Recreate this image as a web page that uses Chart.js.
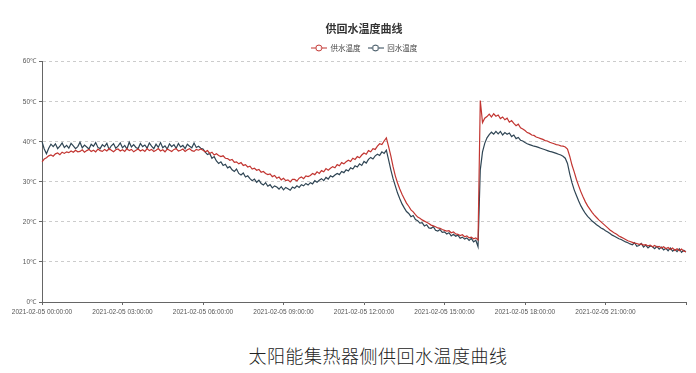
<!DOCTYPE html>
<html>
<head>
<meta charset="utf-8">
<script src="https://cdn.jsdelivr.net/npm/chart.js@4.4.1/dist/chart.umd.min.js"></script>
<style>
  html, body { margin: 0; padding: 0; background: #fff; }
  #wrap { position: relative; width: 696px; height: 373px; }
  #chartBox { position: absolute; left: 0; top: 0; width: 696px; height: 336px; }
  #caption {
    position: absolute; left: 0; top: 342px; width: 756px; text-align: center;
    font-family: "Noto Sans CJK SC", sans-serif; font-size: 18px; color: #222;
    letter-spacing: 0.5px; font-weight: 300;
  }
</style>
</head>
<body>
<div id="wrap">
  <div id="chartBox"><canvas id="tempChart"></canvas></div>
  <div id="caption">太阳能集热器侧供回水温度曲线</div>
</div>
<script>
// 5分おきのサンプル (00:00 ～ 24:00)
const timeLabels = [];
for (let i = 0; i <= 288; i++) {
    const h = Math.floor(i / 12) % 24;
    const m = (i % 12) * 5;
    const day = i === 288 ? '06' : '05';
    timeLabels.push('2021-02-' + day + ' ' + String(h).padStart(2, '0') + ':' + String(m).padStart(2, '0') + ':00');
}

const yTicks = [0, 10, 20, 30, 40, 50, 60];

// 供水温度
const supplyTemp = [
    35.0, 35.7, 36.0, 36.5, 36.7, 36.4, 37.0, 37.2, 36.8, 37.4, 37.1, 37.5,
    37.3, 37.7, 37.4, 37.9, 37.5, 37.6, 38.0, 37.4, 37.8, 38.1, 37.6, 37.9,
    37.5, 38.2, 37.8, 37.6, 38.1, 37.7, 38.3, 37.9, 37.5, 38.0, 38.2, 37.7,
    38.0, 37.6, 38.3, 37.8, 38.1, 37.5, 37.9, 38.2, 37.7, 38.0, 37.6, 38.3,
    37.8, 38.1, 37.6, 37.9, 38.3, 37.7, 38.0, 37.5, 38.2, 37.9, 37.6, 38.1,
    38.3, 37.7, 37.9, 38.2, 37.6, 38.0, 38.3, 37.8, 37.6, 38.1, 37.9, 38.2,
    37.9, 37.5, 37.8, 37.1, 37.4, 36.7, 37.0, 36.6, 36.3, 36.5, 35.9, 35.8,
    35.4, 35.6, 34.9, 35.0, 34.5, 34.8, 34.1, 34.3, 33.7, 33.9, 33.2, 33.4,
    32.9, 33.1, 32.4, 32.6, 32.1, 31.8, 32.0, 31.3, 31.6, 30.9, 31.2, 30.5,
    30.9, 30.3, 30.5, 30.0, 30.6, 30.6, 30.2, 30.9, 31.2, 30.8, 31.5, 31.3,
    31.6, 32.1, 31.8, 32.5, 32.1, 32.8, 32.5, 33.3, 32.9, 33.4, 33.8, 33.5,
    34.3, 34.0, 34.8, 34.5, 35.0, 35.4, 35.1, 35.9, 35.6, 36.3, 36.0, 36.7,
    37.2, 36.9, 37.8, 37.5, 38.3, 38.1, 38.9, 39.5, 39.3, 40.2, 41.0, 38.8,
    36.5, 33.8, 31.5, 29.7, 28.2, 26.9, 25.8, 24.7, 23.9, 23.0, 22.5, 21.8,
    21.2, 20.9, 20.5, 20.2, 19.9, 19.6, 19.2, 19.0, 18.8, 18.5, 18.4, 18.1,
    17.9, 17.7, 17.8, 17.3, 17.5, 17.0, 16.9, 16.6, 16.8, 16.3, 16.5, 16.0,
    16.2, 15.8, 16.0, 15.5, 50.3, 44.8, 45.9, 46.3, 46.9, 46.2, 47.0, 46.4,
    46.7, 45.8, 46.2, 45.5, 45.9, 44.9, 45.3, 44.6, 44.0, 44.4, 43.5, 43.2,
    42.8, 42.3, 42.1, 41.7, 41.6, 41.2, 41.0, 40.8, 40.6, 40.3, 40.2, 39.9,
    39.7, 39.5, 39.3, 39.2, 39.0, 38.9, 38.7, 38.2, 36.4, 34.2, 32.5, 30.6,
    29.0, 27.5, 26.2, 25.0, 24.0, 23.2, 22.4, 21.7, 21.1, 20.5, 20.0, 19.5,
    19.0, 18.5, 18.0, 17.6, 17.2, 16.9, 16.5, 16.2, 15.9, 15.6, 15.3, 15.1,
    14.9, 14.7, 14.6, 14.4, 14.5, 14.2, 14.3, 14.0, 14.2, 13.8, 14.1, 13.7,
    13.9, 13.5, 13.8, 13.3, 13.6, 13.1, 13.5, 12.9, 13.3, 12.8, 13.2, 12.7,
    12.6
];

// 回水温度
const returnTemp = [
    40.0, 38.2, 37.0, 38.4, 39.4, 38.8, 39.5, 38.3, 38.9, 39.7, 38.6, 39.1,
    38.4, 39.6, 39.0, 38.3, 38.8, 39.9, 38.5, 39.2, 38.7, 38.2, 39.4, 38.9,
    39.8, 38.6, 38.3, 39.3, 38.8, 39.6, 38.1, 39.0, 39.5, 38.4, 38.9, 39.7,
    38.5, 39.1, 38.2, 39.9, 38.7, 39.3, 38.6, 38.3, 39.6, 38.8, 39.2, 38.4,
    39.7, 38.9, 38.3, 39.4, 38.6, 39.8, 38.5, 39.0, 38.2, 39.5, 38.8, 39.3,
    38.4, 39.6, 38.7, 39.1, 38.3, 39.4, 38.9, 38.5, 39.7, 38.6, 38.9, 38.4,
    38.2, 37.4, 36.8, 37.1, 35.9, 36.3, 35.2, 34.6, 35.0, 34.1, 34.4, 33.5,
    33.8, 33.0, 32.6, 33.2, 32.1, 31.7, 32.2, 31.2, 31.5, 30.8, 30.3, 30.7,
    29.9, 30.4, 29.6, 29.2, 29.8, 28.9, 29.3, 28.5, 29.0, 28.7, 28.2, 28.8,
    28.0, 28.6, 28.3, 27.9, 28.7, 28.4, 29.0, 28.6, 29.3, 29.0, 29.6, 29.2,
    29.8, 29.5, 30.3, 29.9, 30.4, 30.8, 30.3, 31.1, 30.7, 31.5, 31.2, 31.7,
    32.1, 31.8, 32.6, 32.3, 33.0, 32.7, 33.5, 33.2, 34.0, 33.7, 34.5, 34.1,
    35.1, 34.7, 35.6, 36.1, 35.7, 36.5, 36.9, 36.6, 37.5, 37.1, 37.9, 35.5,
    33.0, 30.8, 29.0, 27.2, 25.8, 24.5, 23.5, 22.6, 22.1, 21.3, 21.6, 20.6,
    20.3, 19.7, 19.8, 19.0, 19.3, 18.5, 18.4, 18.8, 17.9, 17.7, 18.1, 17.4,
    17.5, 17.0, 17.3, 16.5, 16.9, 16.4, 16.7, 15.9, 16.2, 15.7, 16.0, 15.4,
    15.9, 15.0, 15.4, 13.8, 33.0, 37.5, 39.6, 41.0, 41.8, 42.4, 41.9, 42.6,
    42.0, 42.6, 41.7, 42.3, 41.9, 42.2, 41.3, 41.7, 40.8, 41.1, 40.4, 40.2,
    39.8, 39.5, 39.3, 39.1, 38.9, 38.8, 38.6, 38.4, 38.2, 38.0, 37.8, 37.6,
    37.5, 37.3, 37.1, 36.9, 36.7, 36.4, 35.9, 34.6, 32.0, 29.8, 28.0, 26.6,
    25.2, 24.0, 23.0, 22.1, 21.4, 20.8, 20.2, 19.8, 19.3, 18.9, 18.5, 18.2,
    17.8, 17.5, 17.1, 16.7, 16.4, 16.1, 15.8, 15.6, 15.3, 15.0, 14.8, 14.5,
    14.3, 14.8, 13.9, 14.1, 14.6, 13.7, 14.2, 13.5, 14.0, 13.8, 13.3, 13.9,
    13.2, 13.7, 13.0, 13.4, 12.8, 13.5, 12.7, 13.1, 12.6, 13.3, 12.4, 12.9,
    12.5
];

const supplyColor = '#c23531';
const returnColor = '#2f4554';

// 凡例アイコン (線 + 白抜き円)
function legendIcon(color) {
    const c = document.createElement('canvas');
    c.width = 16;
    c.height = 10;
    const g = c.getContext('2d');
    g.strokeStyle = color;
    g.lineWidth = 1;
    g.beginPath();
    g.moveTo(0, 5);
    g.lineTo(16, 5);
    g.stroke();
    g.beginPath();
    g.arc(8, 5, 3, 0, Math.PI * 2);
    g.fillStyle = '#fff';
    g.fill();
    g.stroke();
    return c;
}

const ctx = document.getElementById('tempChart').getContext('2d');
new Chart(ctx, {
    type: 'line',
    data: {
        labels: timeLabels,
        datasets: [{
            label: '供水温度',
            data: supplyTemp,
            borderColor: supplyColor,
            backgroundColor: supplyColor,
            borderWidth: 1.2,
            pointRadius: 0,
            pointStyle: legendIcon(supplyColor),
            tension: 0
        }, {
            label: '回水温度',
            data: returnTemp,
            borderColor: returnColor,
            backgroundColor: returnColor,
            borderWidth: 1.2,
            pointRadius: 0,
            pointStyle: legendIcon(returnColor),
            tension: 0
        }]
    },
    options: {
        responsive: true,
        maintainAspectRatio: false,
        animation: false,
        layout: { padding: { left: 0, right: 10, top: 0, bottom: 0 } },
        scales: {
            x: {
                ticks: {
                    autoSkip: false,
                    maxRotation: 0,
                    padding: 3,
                    color: '#555',
                    font: { size: 6.5, family: 'Liberation Sans' },
                    callback: (v, i) => (i % 36 === 0 && i < 288) ? timeLabels[i] : ''
                },
                grid: {
                    drawOnChartArea: false,
                    tickLength: 3,
                    color: c => (c.index % 36 === 0) ? '#666' : 'rgba(0,0,0,0)'
                },
                border: { color: '#666' },
                afterFit: scale => { scale.height = 34; }
            },
            y: {
                min: 0,
                max: 60,
                afterBuildTicks: scale => { scale.ticks = yTicks.map(v => ({ value: v })); },
                ticks: {
                    padding: 3,
                    color: '#555',
                    font: { size: 6.5, family: 'Liberation Sans' },
                    callback: v => v + '℃'
                },
                grid: {
                    color: '#ccc',
                    tickColor: '#666',
                    tickLength: 3
                },
                border: { color: '#666', dash: [3, 3] },
                afterFit: scale => { scale.width = 42; }
            }
        },
        plugins: {
            title: {
                display: true,
                fullSize: false,
                text: '供回水温度曲线',
                color: '#333',
                font: { size: 11, weight: 'bold', family: 'Noto Sans CJK SC' },
                padding: { top: 22, bottom: 2 }
            },
            legend: {
                fullSize: false,
                labels: {
                    usePointStyle: true,
                    pointStyleWidth: 16,
                    padding: 7,
                    boxHeight: 8,
                    color: '#444',
                    font: { size: 7.5, family: 'Noto Sans CJK SC' }
                }
            },
            tooltip: { enabled: false }
        }
    }
});
</script>
</body>
</html>
